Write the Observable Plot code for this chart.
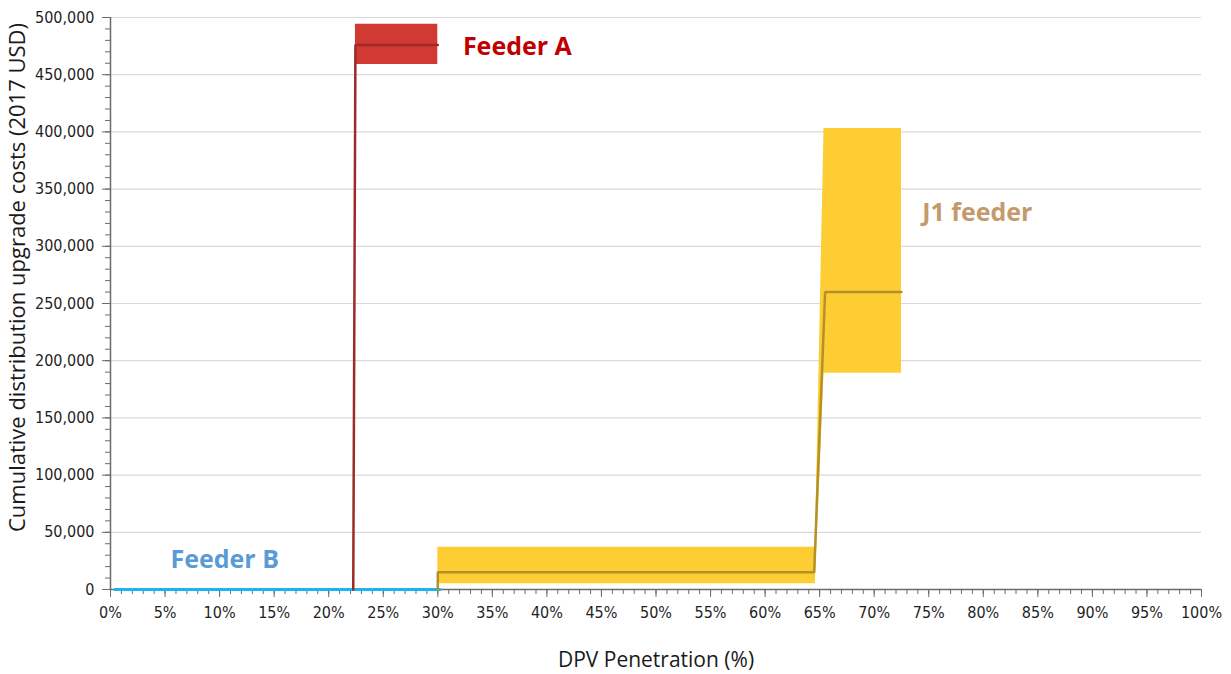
<!DOCTYPE html>
<html>
<head>
<meta charset="utf-8">
<script src="https://cdn.jsdelivr.net/npm/d3@7"></script>
<script src="https://cdn.jsdelivr.net/npm/@observablehq/plot@0.6"></script>
<style>
  body { margin: 0; background: #fff; }
  #chart svg { display: block; }
</style>
</head>
<body>
<div id="chart"></div>
<script>
// DPV penetration (%) and cumulative upgrade cost (2017 USD) for each feeder.
const feederBPenetration = [0.4, 30.2];
const feederBCost = [0, 0];

const feederAPenetration = [22.25, 22.45, 30];
const feederACost = [0, 476000, 476000];
const feederARangePenetration = [22.45, 30];
const feederARangeLow = [459000, 459000];
const feederARangeHigh = [494000, 494000];

const j1Penetration = [30, 30, 64.5, 65.5, 72.5];
const j1Cost = [0, 15000, 15000, 260000, 260000];
const j1RangePenetration = [30, 64.6, 65.4, 72.5];
const j1RangeLow = [5000, 5000, 189000, 189000];
const j1RangeHigh = [37000, 37000, 403000, 403000];

// Series labels placed in data coordinates
const labelNames = ["Feeder A", "J1 feeder", "Feeder B"];
const labelPenetration = [32.3, 74.4, 5.5];
const labelCost = [474000, 329000, 25600];
const labelColors = ["#c00000", "#c49a6c", "#5b9bd5"];

const xMajorTicks = d3.range(0, 101, 5);
const xMinorTicks = d3.range(0, 101, 1);
const yMajorTicks = d3.range(0, 500001, 50000);
const yMinorTicks = d3.range(0, 500001, 10000);

const zip = (xs, ys) => xs.map((x, i) => ({x, y: ys[i]}));
const band = (xs, lo, hi) => xs.map((x, i) => ({x, lo: lo[i], hi: hi[i]}));
const labels = labelNames.map((t, i) => ({t, x: labelPenetration[i], y: labelCost[i], c: labelColors[i]}));

const tickFont = "'Liberation Sans Narrow', 'Arial Narrow', 'DejaVu Sans Condensed', sans-serif";
const titleFont = "'Open Sans', 'Noto Sans', sans-serif";
const axisColor = "#6b6b6b";

const chart = Plot.plot({
  width: 1231,
  height: 674,
  marginLeft: 110,
  marginRight: 30,
  marginTop: 17,
  marginBottom: 85,
  style: {fontFamily: tickFont, fontSize: "16px", color: "#262626", background: "#fff"},
  x: {domain: [0, 100], axis: null},
  y: {domain: [0, 500000], axis: null},
  marks: [
    // horizontal gridlines
    Plot.ruleY(yMajorTicks.filter(d => d > 0), {stroke: "#d9d9d9", strokeWidth: 1.2}),

    // axes
    Plot.ruleX([0], {stroke: axisColor, strokeWidth: 1.5}),
    Plot.ruleY([0], {stroke: axisColor, strokeWidth: 1.5}),
    Plot.axisY(yMinorTicks, {tickSize: 5, tickFormat: () => "", label: null, stroke: axisColor}),
    Plot.axisY(yMajorTicks, {tickSize: 8, tickPadding: 8, tickFormat: d3.format(","), label: null,
      stroke: axisColor, fill: "#1f1f1f", fontSize: 16}),
    Plot.axisX(xMinorTicks, {tickSize: 5, tickFormat: () => "", label: null, stroke: axisColor}),
    Plot.axisX(xMajorTicks, {tickSize: 8, tickPadding: 9, tickFormat: d => d + "%", label: null,
      stroke: axisColor, fill: "#1f1f1f", fontSize: 16}),

    // uncertainty ranges
    Plot.areaY(band(feederARangePenetration, feederARangeLow, feederARangeHigh),
      {x: "x", y1: "lo", y2: "hi", fill: "#d13a32", curve: "linear"}),
    Plot.areaY(band(j1RangePenetration, j1RangeLow, j1RangeHigh),
      {x: "x", y1: "lo", y2: "hi", fill: "#fecd34", curve: "linear"}),

    // cost lines
    Plot.line(zip(feederBPenetration, feederBCost),
      {x: "x", y: "y", stroke: "#1cb4ee", strokeWidth: 3}),
    Plot.line(zip(feederAPenetration, feederACost),
      {x: "x", y: "y", stroke: "#9c2b28", strokeWidth: 2.5, strokeLinejoin: "miter"}),
    Plot.line(zip(j1Penetration, j1Cost),
      {x: "x", y: "y", stroke: "#b39129", strokeWidth: 2.5, strokeLinejoin: "miter"}),

    // axis titles
    Plot.text(["DPV Penetration (%)"], {frameAnchor: "bottom", dy: 77, text: d => d,
      fontFamily: titleFont, fontSize: 21, fill: "#1a1a1a"}),
    Plot.text(["Cumulative distribution upgrade costs (2017 USD)"], {frameAnchor: "left", dx: -93, dy: -26,
      rotate: -90, textAnchor: "middle", text: d => d, fontFamily: titleFont, fontSize: 22, fill: "#1a1a1a"}),

    // series labels
    Plot.text(labels, {x: "x", y: "y", text: "t", fill: "c", textAnchor: "start",
      fontFamily: titleFont, fontWeight: 700, fontSize: 25})
  ]
});

document.getElementById("chart").appendChild(chart);
</script>
</body>
</html>
